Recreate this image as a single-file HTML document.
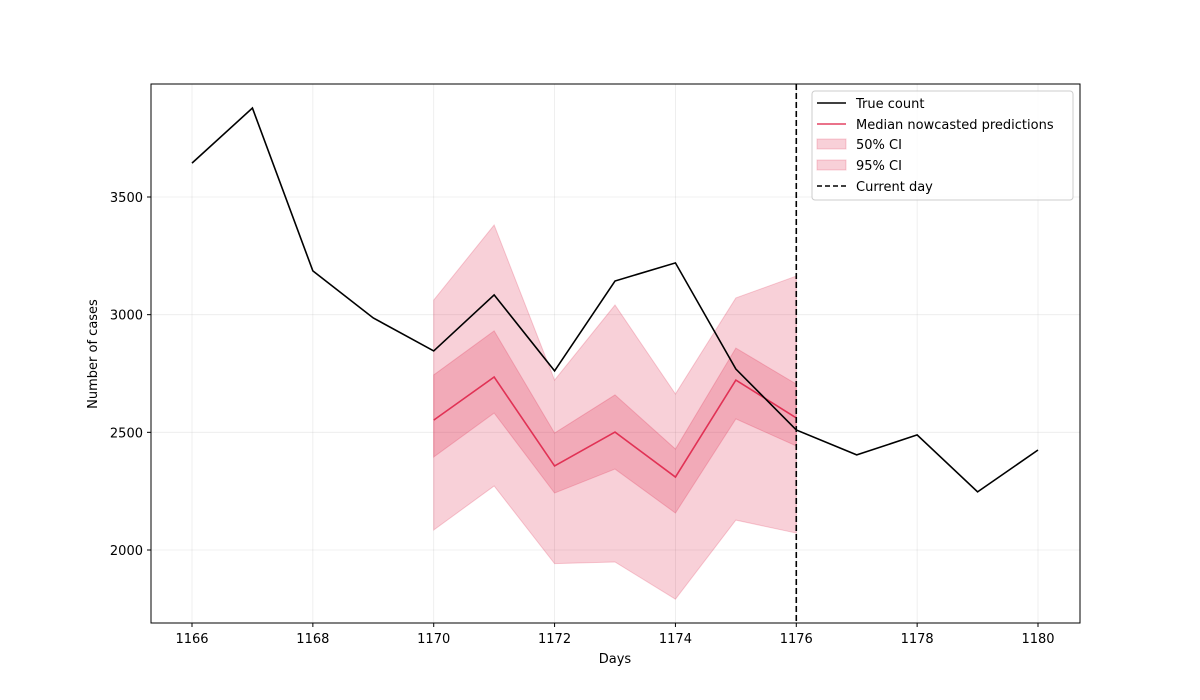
<!DOCTYPE html>
<html><head><meta charset="utf-8"><style>
html,body{margin:0;padding:0;background:#fff;}
svg{display:block;font-family:"DejaVu Sans","Liberation Sans",sans-serif;}
</style></head><body>
<svg id="chart" width="1200" height="700" viewBox="0 0 1200 700" xmlns="http://www.w3.org/2000/svg">
<rect x="0" y="0" width="1200" height="700" fill="#fff"/>
<g id="grid"></g>
<g id="bands"></g>
<g id="lines"></g>
<rect x="151" y="84" width="929" height="539" fill="none" stroke="#000" stroke-width="1"/>
<g id="xticks"></g>
<g id="yticks"></g>
<text x="615" y="663" font-size="13" text-anchor="middle">Days</text>
<text transform="translate(97,354) rotate(-90)" font-size="13" text-anchor="middle">Number of cases</text>
<g>
<rect x="812" y="91" width="261" height="109" rx="3" fill="#fff" fill-opacity="0.8" stroke="#ccc"/>
<g><line x1="817" y1="103" x2="846" y2="103" stroke="#000" stroke-width="1.5"/><text x="856" y="108" font-size="13">True count</text></g>
<g><line x1="817" y1="124" x2="846" y2="124" stroke="#dc143c" stroke-opacity="0.8" stroke-width="1.5"/><text x="856" y="129" font-size="13">Median nowcasted predictions</text></g>
<g><rect x="817" y="139" width="29" height="10" fill="#dc143c" fill-opacity="0.2" stroke="#dc143c" stroke-opacity="0.2"/><text x="856" y="149" font-size="13">50% CI</text></g>
<g><rect x="817" y="160" width="29" height="10" fill="#dc143c" fill-opacity="0.2" stroke="#dc143c" stroke-opacity="0.2"/><text x="856" y="170" font-size="13">95% CI</text></g>
<g><line x1="817" y1="186" x2="846" y2="186" stroke="#000" stroke-width="1.5" stroke-dasharray="5,3"/><text x="856" y="191" font-size="13">Current day</text></g>
</g>
</svg>
<script>
const trueDays=[1166,1167,1168,1169,1170,1171,1172,1173,1174,1175,1176,1177,1178,1179,1180];
const trueCounts=[3644,3878,3186,2986,2846,3084,2761,3143,3220,2769,2510,2404,2489,2247,2425];
const predDays=[1170,1171,1172,1173,1174,1175,1176];
const median=[2552,2735,2357,2501,2310,2722,2561];
const ci50Upper=[2744,2931,2497,2659,2429,2858,2705];
const ci50Lower=[2395,2582,2242,2344,2157,2557,2442];
const ci95Upper=[3062,3381,2722,3041,2663,3071,3164];
const ci95Lower=[2085,2272,1942,1949,1791,2127,2072];
const currentDay=1176;
const xTicks=[1166,1168,1170,1172,1174,1176,1178,1180];
const yTicks=[2000,2500,3000,3500];

const NS="http://www.w3.org/2000/svg";
const X=d=>192+(d-1166)*(1038-192)/14;
const Y=v=>550-(v-2000)*(550-197)/1500;
function mk(tag,attrs,parent){const e=document.createElementNS(NS,tag);for(const k in attrs)e.setAttribute(k,attrs[k]);parent.appendChild(e);return e;}
const grid=document.getElementById('grid'),bands=document.getElementById('bands'),lines=document.getElementById('lines');
const xt=document.getElementById('xticks'),yt=document.getElementById('yticks');
xTicks.forEach(t=>{
 const g=mk('line',{x1:X(t),x2:X(t),y1:84,y2:623,stroke:'#b0b0b0','stroke-opacity':0.25,'stroke-width':0.8},grid);
 
 
 const tk=mk('line',{x1:X(t),x2:X(t),y1:623,y2:627,stroke:'#000'},xt);
 
 
 const tx=mk('text',{x:X(t),y:643,'font-size':13,'text-anchor':'middle'},xt);tx.textContent=t;
 
 
});
yTicks.forEach(t=>{
 const g=mk('line',{x1:151,x2:1080,y1:Y(t),y2:Y(t),stroke:'#b0b0b0','stroke-opacity':0.25,'stroke-width':0.8},grid);
 
 
 const tk=mk('line',{x1:147,x2:151,y1:Y(t),y2:Y(t),stroke:'#000'},yt);
 
 
 const tx=mk('text',{x:143,y:Y(t)+5,'font-size':13,'text-anchor':'end'},yt);tx.textContent=t;
 
 
});
function band(up,lo,name){
 let pts=predDays.map((d,i)=>X(d)+','+Y(up[i]));
 for(let i=predDays.length-1;i>=0;i--)pts.push(X(predDays[i])+','+Y(lo[i]));
 const p=mk('polygon',{points:pts.join(' '),fill:'#dc143c','fill-opacity':0.2,stroke:'#dc143c','stroke-opacity':0.2},bands);
 
 
}
band(ci95Upper,ci95Lower,'ci-95-band');
band(ci50Upper,ci50Lower,'ci-50-band');
const mLine=mk('polyline',{points:predDays.map((d,i)=>X(d)+','+Y(median[i])).join(' '),fill:'none',stroke:'#dc143c','stroke-opacity':0.8,'stroke-width':1.6},lines);


const tLine=mk('polyline',{points:trueDays.map((d,i)=>X(d)+','+Y(trueCounts[i])).join(' '),fill:'none',stroke:'#000','stroke-width':1.6},lines);


const cd=mk('line',{x1:X(currentDay),x2:X(currentDay),y1:84,y2:623,stroke:'#000','stroke-width':1.6,'stroke-dasharray':'6,3'},lines);


</script>
</body></html>
